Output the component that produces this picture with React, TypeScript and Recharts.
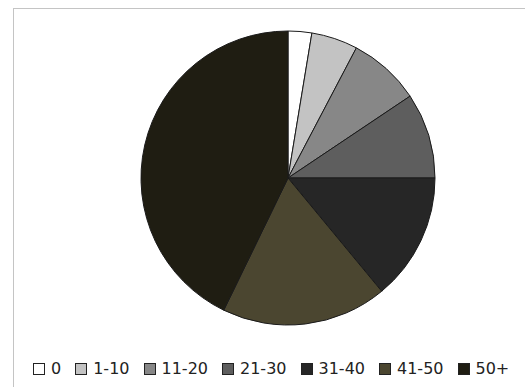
import React from 'react';
import { PieChart, Pie, Cell, Legend } from 'recharts';

// age bands and their share of the total (percent)
const categories = ['0', '1-10', '11-20', '21-30', '31-40', '41-50', '50+'];
const shares = [2.6, 5.1, 7.9, 9.4, 14.0, 18.2, 42.8];
const colors = ['#ffffff', '#c3c3c3', '#878787', '#5e5e5e', '#262626', '#4b4630', '#1f1d12'];

const data = categories.map((name, i) => ({ name, value: shares[i], fill: colors[i] }));

const renderLegend = () => (
  <ul
    style={{
      display: 'flex',
      listStyle: 'none',
      margin: 0,
      padding: 0,
      fontFamily: '"DejaVu Sans", sans-serif',
      fontSize: 16,
      color: '#222',
      whiteSpace: 'nowrap',
    }}
  >
    {data.map((d, i) => (
      <li key={`item-${i}`} style={{ display: 'flex', alignItems: 'center', marginRight: 14 }}>
        <span
          style={{
            display: 'inline-block',
            width: 10,
            height: 10,
            border: '1px solid #222',
            backgroundColor: d.fill,
            marginRight: 6,
          }}
        />
        <span>{d.name}</span>
      </li>
    ))}
  </ul>
);

export default function App() {
  return (
    <div style={{ position: 'absolute', left: 0, top: 0, width: 525, height: 387, background: '#fff' }}>
      <div
        style={{
          position: 'absolute',
          left: 13,
          top: 8,
          width: 520,
          height: 400,
          borderTop: '1px solid #c4c4c4',
          borderLeft: '1px solid #c4c4c4',
        }}
      />
      <PieChart width={525} height={387} margin={{ top: 0, right: 0, bottom: 0, left: 0 }}>
        <Pie
          data={data}
          dataKey="value"
          nameKey="name"
          cx={288}
          cy={178}
          outerRadius={147}
          startAngle={90}
          endAngle={-270}
          stroke="#1a1a1a"
          strokeWidth={1}
          isAnimationActive={false}
        >
          {data.map((d, i) => (
            <Cell key={`cell-${i}`} fill={d.fill} />
          ))}
        </Pie>
        <Legend
          content={renderLegend}
          wrapperStyle={{ position: 'absolute', left: 33, top: 359, width: 'auto' }}
        />
      </PieChart>
    </div>
  );
}
